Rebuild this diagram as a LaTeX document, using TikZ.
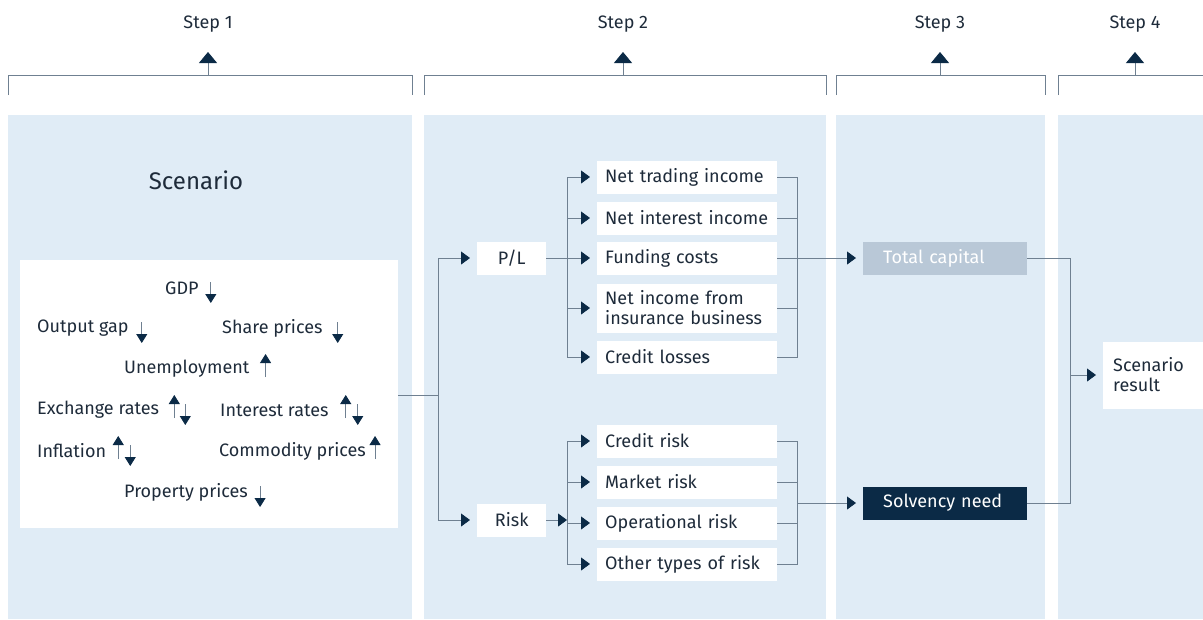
\documentclass[tikz,border=0pt]{standalone}
\usepackage{fontspec}
\setmainfont{Fira Sans}
\usetikzlibrary{arrows.meta}
\definecolor{panel}{HTML}{E0ECF6}
\definecolor{navy}{HTML}{0B2A46}
\definecolor{ink}{HTML}{1E2B3A}
\definecolor{line}{HTML}{6F8091}
\definecolor{capfill}{HTML}{B9C8D7}
\begin{document}
\begin{tikzpicture}[x=1pt,y=-1pt,
    txt/.style={font=\fontsize{18}{20}\selectfont,text=ink},
    item/.style={txt,anchor=west,inner sep=0pt},
    box/.style={txt,fill=white,anchor=west,inner xsep=8pt,inner ysep=0pt,minimum height=33pt,text width=164pt,align=left},
    midbox/.style={txt,fill=white,anchor=west,inner sep=0pt,minimum height=33pt,minimum width=69pt},
    ln/.style={draw=line,line width=0.8pt},
    arr/.style={ln,-{Triangle[length=9pt,width=13pt,color=navy]},shorten >=7pt},
    sarr/.style={ln,-{Triangle[length=9pt,width=11pt,color=navy]}},
    steparr/.style={ln,-{Triangle[length=11pt,width=18pt,color=navy]}},
    brk/.style={draw=line,line width=0.8pt}]
    \useasboundingbox (0,0) rectangle (1203,619);
    % panels
    \fill[panel] (8,115) rectangle (412,619);   \fill[panel] (424,115) rectangle (826,619);
    \fill[panel] (836,115) rectangle (1045,619); \fill[panel] (1058,115) rectangle (1203,619);
    % brackets and steps
    \draw[brk] (8,95) |- (412,75) -- (412,95);    \draw[brk] (424,95) |- (826,75) -- (826,95);
    \draw[brk] (836,95) |- (1045,75) -- (1045,95); \draw[brk] (1058,95) |- (1210,75);
    \node[txt] (s1) at (208,24) {Step 1};  \node[txt] (s2) at (623,24) {Step 2};
    \node[txt] (s3) at (940,24) {Step 3};  \node[txt] (s4) at (1135,24) {Step 4};
    \coordinate (b1) at (208,75);  \coordinate (t1) at (208,52);
    \coordinate (b2) at (623,75);  \coordinate (t2) at (623,52);
    \coordinate (b3) at (940,75);  \coordinate (t3) at (940,52);
    \coordinate (b4) at (1135,75); \coordinate (t4) at (1135,52);
    \draw[steparr] (b1) -- (t1); \draw[steparr] (b2) -- (t2); \draw[steparr] (b3) -- (t3); \draw[steparr] (b4) -- (t4);
    % step 1
    \node[txt,font=\fontsize{24}{26}\selectfont] (title) at (196,180) {Scenario};
    \node[fill=white,minimum width=378pt,minimum height=268pt,inner sep=0pt] (scen) at (209,394) {};
    \node[item] (gdp) at (165,288) {GDP};
    \node[item] (gap) at (37,328) {Output gap};        \node[item] (shr) at (222,328) {Share prices};
    \node[item] (une) at (124,369) {Unemployment};
    \node[item] (exr) at (37,410) {Exchange rates};    \node[item] (inr) at (220,410) {Interest rates};
    \node[item] (inf) at (37,451) {Inflation};         \node[item] (com) at (219,451) {Commodity prices};
    \node[item] (pro) at (124,492) {Property prices};
    \draw[sarr] ([xshift=12pt]gdp.east) ++(0,-6) -- ++(0,21);
    \draw[sarr] ([xshift=13pt]gap.east) ++(0,-6) -- ++(0,21);
    \draw[sarr] ([xshift=15pt]shr.east) ++(0,-6) -- ++(0,21);
    \draw[sarr] ([xshift=16pt]une.east) ++(0,8) -- ++(0,-23);
    \draw[sarr] ([xshift=15pt]exr.east) ++(0,8) -- ++(0,-23); \draw[sarr] ([xshift=26pt]exr.east) ++(0,-6) -- ++(0,21);
    \draw[sarr] ([xshift=17pt]inr.east) ++(0,8) -- ++(0,-23); \draw[sarr] ([xshift=29pt]inr.east) ++(0,-6) -- ++(0,21);
    \draw[sarr] ([xshift=12pt]inf.east) ++(0,8) -- ++(0,-23); \draw[sarr] ([xshift=24pt]inf.east) ++(0,-6) -- ++(0,21);
    \draw[sarr] ([xshift=9pt]com.east) ++(0,8) -- ++(0,-23);
    \draw[sarr] ([xshift=12pt]pro.east) ++(0,-6) -- ++(0,21);
    % step 2
    \node[midbox] (pl) at (477,258) {P/L};
    \node[midbox] (risk) at (477,520) {Risk};
    \node[box] (nti) at (597,177) {Net trading income};
    \node[box] (nii) at (597,218) {Net interest income};
    \node[box] (fun) at (597,258) {Funding costs};
    \node[box,minimum height=49pt] (nib) at (597,308) {Net income from\\insurance business};
    \node[box] (crl) at (597,357) {Credit losses};
    \node[box] (crr) at (597,441) {Credit risk};
    \node[box] (mkr) at (597,482) {Market risk};
    \node[box] (opr) at (597,523) {Operational risk};
    \node[box] (otr) at (597,564) {Other types of risk};
    % step 3 and 4
    \node[box,fill=capfill,text=white,inner xsep=20pt,text width=124pt] (tc) at (863,258) {Total capital};
    \node[box,fill=navy,text=white,inner xsep=20pt,text width=124pt] (sn) at (863,503) {Solvency need};
    \node[box,minimum height=67pt,inner xsep=10pt,text width=80pt] (res) at (1103,375) {Scenario\\result};
    % connectors
    \coordinate (j1) at (438,395);
    \draw[ln] (scen.east |- j1) -- (j1);
    \draw[arr] (j1) |- (pl.west); \draw[arr] (j1) |- (risk.west);
    \coordinate (pb) at (567,258); \coordinate (rb) at (567,520);
    \draw[ln] (pl.east) -- (pb); \draw[ln] (pb |- nti) -- (pb |- crl);
    \draw[arr] (pb |- nti) -- (nti.west); \draw[arr] (pb |- nii) -- (nii.west); \draw[arr] (pb) -- (fun.west);
    \draw[arr] (pb |- nib) -- (nib.west); \draw[arr] (pb |- crl) -- (crl.west);
    \draw[ln,-{Triangle[length=9pt,width=13pt,color=navy]}] (risk.east) -- (rb);
    \draw[ln] (rb |- crr) -- (rb |- otr);
    \draw[arr] (rb |- crr) -- (crr.west); \draw[arr] (rb |- mkr) -- (mkr.west);
    \draw[arr] (rb |- opr) -- (opr.west); \draw[arr] (rb |- otr) -- (otr.west);
    \coordinate (pe) at (797,258); \coordinate (re) at (797,503);
    \draw[ln] (nti.east) -| (pe |- crl) -- (crl.east);
    \draw[ln] (nii.east) -- (pe |- nii); \draw[ln] (nib.east) -- (pe |- nib);
    \draw[arr] (fun.east) -- (tc.west);
    \draw[ln] (crr.east) -| (re |- otr) -- (otr.east);
    \draw[ln] (mkr.east) -- (re |- mkr); \draw[ln] (opr.east) -- (re |- opr);
    \draw[arr] (re) -- (sn.west);
    \coordinate (jr) at (1070,375);
    \draw[ln] (tc.east) -| (jr); \draw[ln] (sn.east) -| (jr);
    \draw[arr] (jr) -- (res.west);
\end{tikzpicture}
\end{document}
